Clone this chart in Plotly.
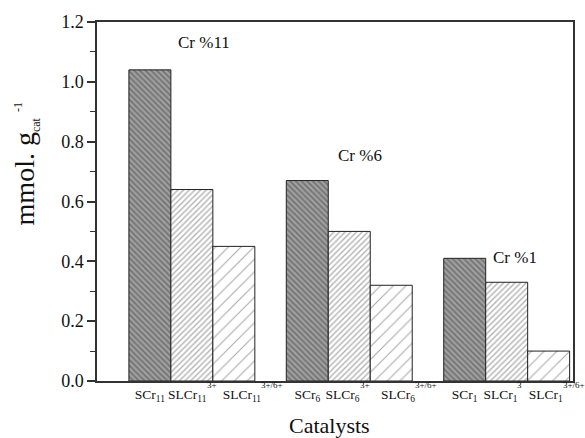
import plotly.graph_objects as go

groups = ["Cr %11", "Cr %6", "Cr %1"]
label_base = ["SCr", "SLCr", "SLCr", "SCr", "SLCr", "SLCr", "SCr", "SLCr", "SLCr"]
label_sub = ["11", "11", "11", "6", "6", "6", "1", "1", "1"]
label_sup = ["", "3+", "3+/6+", "", "3+", "3+/6+", "", "3", "3+/6+"]
scr = [1.04, 0.67, 0.41]
slcr3 = [0.64, 0.50, 0.33]
slcr36 = [0.45, 0.32, 0.10]
label_heights = [1.133, 0.755, 0.413]

# layout constants (not data)
GAP = 0.75
PITCH = 3 + GAP
LABEL_SHIFT = [0, -0.11, 0.19, 0, -0.16, 0.16, 0, -0.15, -0.07]
TICK_SIZE = 13.5
FONT = "Liberation Serif"

series = [scr, slcr3, slcr36]
styles = [
    dict(shape="\\", bgcolor="#a0a0a0", fgcolor="#444444", size=4, solidity=0.45),
    dict(shape="/", bgcolor="#ffffff", fgcolor="#666666", size=4, solidity=0.35),
    dict(shape="/", bgcolor="#ffffff", fgcolor="#555555", size=9, solidity=0.12),
]

fig = go.Figure()
for i, (vals, st) in enumerate(zip(series, styles)):
    xs = [g * PITCH + i for g in range(len(groups))]
    fig.add_trace(go.Bar(
        x=xs, y=vals, width=1,
        marker=dict(color=st["bgcolor"], line=dict(color="#222", width=1),
                    pattern=dict(shape=st["shape"], bgcolor=st["bgcolor"],
                                 fgcolor=st["fgcolor"], size=st["size"],
                                 solidity=st["solidity"], fillmode="overlay")),
        showlegend=False,
    ))

barpos = [g * PITCH + i for g in range(len(groups)) for i in range(3)]
tickpos = [p + s for p, s in zip(barpos, LABEL_SHIFT)]
ticktext = [f"{b}<sub>{s}</sub>" for b, s in zip(label_base, label_sub)]

# superscripts of the tick labels, raised just under the axis like in the source
char_w = {"S": 0.556, "L": 0.611, "C": 0.667, "r": 0.333}
for pos, b, s, sp in zip(tickpos, label_base, label_sub, label_sup):
    if not sp:
        continue
    w = sum(char_w[c] for c in b) * TICK_SIZE + len(s) * 0.5 * 0.7 * TICK_SIZE
    fig.add_annotation(x=pos, y=0, xref="x", yref="paper", text=sp, showarrow=False,
                       xanchor="left", yanchor="top", xshift=w / 2 - 2, yshift=3,
                       font=dict(size=9, color="#111", family=FONT))

for g, (name, h) in enumerate(zip(groups, label_heights)):
    fig.add_annotation(x=g * PITCH + 1.30 - 0.05 * g, y=h, text=name, showarrow=False,
                       font=dict(size=17, color="#111", family=FONT))

fig.add_annotation(x=0.488, y=-0.163, xref="paper", yref="paper", text="Catalysts",
                   showarrow=False, yanchor="bottom", xanchor="center",
                   font=dict(size=22, color="#111", family=FONT))
fig.add_annotation(x=-0.15, y=0.605, xref="paper", yref="paper", textangle=-90,
                   text="mmol. g<sub><span style='font-size:12px'>cat</span></sub>"
                        "<sup><span style='font-size:12px'>  -1</span></sup>",
                   showarrow=False, xanchor="center", yanchor="middle",
                   font=dict(size=28, color="#111", family=FONT))

fig.update_layout(
    width=585, height=438,
    margin=dict(l=97, r=12, t=22, b=57),
    paper_bgcolor="white", plot_bgcolor="white",
    barmode="overlay",
    font=dict(family=FONT, color="#111"),
    xaxis=dict(range=[-1.26, 2 * PITCH + 2.5 + 0.08], tickvals=tickpos, ticktext=ticktext,
               showline=True, mirror=True, linecolor="#333", linewidth=1.5,
               ticks="", showgrid=False, zeroline=False, tickangle=0,
               tickfont=dict(size=TICK_SIZE), automargin=False),
    yaxis=dict(range=[0, 1.2], dtick=0.2, tickformat=".1f",
               showline=True, mirror=True, linecolor="#333", linewidth=1.5,
               ticks="outside", ticklen=8, tickwidth=1.5, tickcolor="#333",
               minor=dict(dtick=0.1, ticks="outside", ticklen=5, tickcolor="#333", tickwidth=1.2),
               showgrid=False, zeroline=False, tickfont=dict(size=18), automargin=False),
)
fig.write_html("out.html")
